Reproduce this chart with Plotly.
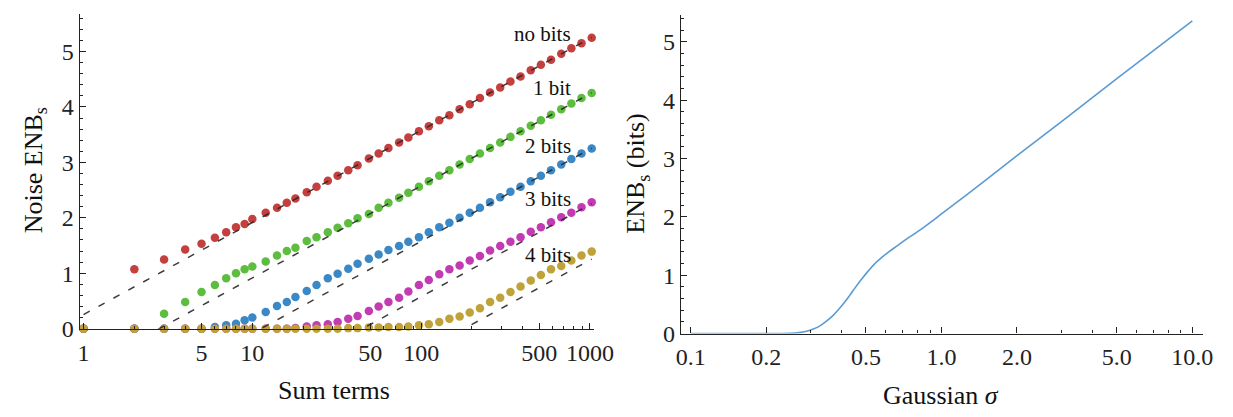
import plotly.graph_objects as go

# ---------------- data ----------------
sum_terms = [1, 2, 3, 4, 5, 6, 7, 8, 9, 10, 12, 14, 16, 18, 21, 24, 28, 32, 37, 42,
             49, 56, 64, 74, 84, 97, 111, 128, 147, 169, 194, 223, 256, 294, 338,
             388, 446, 512, 588, 676, 776, 891, 1024]

enb_no_bits = [0.0, 1.07, 1.25, 1.43, 1.53, 1.64, 1.74, 1.83, 1.89, 1.98, 2.09, 2.18,
               2.27, 2.35, 2.46, 2.56, 2.67, 2.76, 2.86, 2.95, 3.07, 3.16, 3.26, 3.36,
               3.45, 3.56, 3.65, 3.76, 3.85, 3.96, 4.05, 4.16, 4.26, 4.35, 4.46, 4.55,
               4.66, 4.76, 4.85, 4.96, 5.06, 5.15, 5.25]
enb_1_bit = [0.0, 0.0, 0.27, 0.48, 0.66, 0.79, 0.91, 1.00, 1.07, 1.12, 1.21, 1.32,
             1.40, 1.46, 1.58, 1.65, 1.74, 1.82, 1.90, 1.99, 2.07, 2.18, 2.27, 2.36,
             2.45, 2.56, 2.66, 2.76, 2.86, 2.96, 3.06, 3.16, 3.26, 3.36, 3.46, 3.56,
             3.66, 3.76, 3.86, 3.96, 4.06, 4.16, 4.25]
enb_2_bits = [0.0, 0.0, 0.0, 0.0, 0.0, 0.03, 0.06, 0.09, 0.15, 0.20, 0.30, 0.41,
              0.48, 0.57, 0.68, 0.79, 0.91, 0.99, 1.08, 1.17, 1.26, 1.34, 1.42, 1.49,
              1.57, 1.65, 1.74, 1.83, 1.91, 2.00, 2.09, 2.18, 2.28, 2.37, 2.47, 2.56,
              2.66, 2.76, 2.86, 2.96, 3.06, 3.16, 3.25]
enb_3_bits = [0.0, 0.0, 0.0, 0.0, 0.0, 0.0, 0.0, 0.0, 0.0, 0.0, 0.0, 0.0,
              0.0, 0.01, 0.04, 0.06, 0.08, 0.12, 0.18, 0.23, 0.32, 0.40, 0.48, 0.56,
              0.67, 0.79, 0.88, 0.98, 1.07, 1.14, 1.23, 1.31, 1.41, 1.49, 1.57, 1.65,
              1.75, 1.83, 1.92, 2.01, 2.09, 2.19, 2.28]
enb_4_bits = [0.0, 0.0, 0.0, 0.0, 0.0, 0.0, 0.0, 0.0, 0.0, 0.0, 0.0, 0.0,
              0.0, 0.0, 0.0, 0.0, 0.0, 0.0, 0.01, 0.01, 0.02, 0.02, 0.03, 0.03,
              0.04, 0.06, 0.08, 0.12, 0.18, 0.22, 0.29, 0.37, 0.48, 0.56, 0.66, 0.76,
              0.87, 0.97, 1.07, 1.13, 1.23, 1.32, 1.39]

series_labels = ["no bits", "1 bit", "2 bits", "3 bits", "4 bits"]
series_colors = ["#c4403e", "#5dbd3f", "#3b88c6", "#c23bb3", "#bfa33a"]

# asymptotic (Gaussian) reference lines: value at 1 and at 1024 sum terms
asym_x = [1, 1024]
asym_no_bits = [0.255, 5.255]
asym_1_bit = [-0.745, 4.255]
asym_2_bits = [-1.745, 3.255]
asym_3_bits = [-2.745, 2.255]
asym_4_bits = [-3.745, 1.255]

x1_major = [1, 5, 10, 50, 100, 500, 1000]
x1_minor = [2, 3, 4, 6, 7, 8, 9, 20, 30, 40, 60, 70, 80, 90,
            200, 300, 400, 600, 700, 800, 900]

# right panel: ENB of a gaussian vs sigma
sigma = [0.1, 0.15, 0.2, 0.23, 0.25, 0.27, 0.29, 0.31, 0.33, 0.35, 0.37, 0.39,
         0.41, 0.43, 0.45, 0.48, 0.51, 0.54, 0.58, 0.62, 0.67, 0.72, 0.78, 0.85,
         0.92, 1.0, 1.5, 2.0, 3.0, 5.0, 7.0, 10.0]
enb_sigma = [0.0, 0.0, 0.0, 0.0, 0.003, 0.015, 0.04, 0.08, 0.14, 0.22, 0.31, 0.42,
             0.53, 0.65, 0.77, 0.93, 1.07, 1.19, 1.31, 1.41, 1.51, 1.61, 1.71, 1.82,
             1.93, 2.05, 2.63, 3.05, 3.63, 4.37, 4.85, 5.36]

x2_major = [0.1, 0.2, 0.5, 1.0, 2.0, 5.0, 10.0]
x2_major_text = ["0.1", "0.2", "0.5", "1.0", "2.0", "5.0", "10.0"]
x2_minor = [0.3, 0.4, 0.6, 0.7, 0.8, 0.9, 3, 4, 6, 7, 8, 9]

# ---------------- figure ----------------
W, H = 1233, 417
FONT = "Liberation Serif, Times New Roman, serif"

fig = go.Figure()

series = [enb_no_bits, enb_1_bit, enb_2_bits, enb_3_bits, enb_4_bits]
for vals, col, lab in zip(series, series_colors, series_labels):
    fig.add_trace(go.Scatter(
        x=sum_terms, y=vals, mode="markers", name=lab, cliponaxis=False,
        marker=dict(size=8.5, color=col, line=dict(width=0)),
        xaxis="x", yaxis="y"))

for ys in [asym_no_bits, asym_1_bit, asym_2_bits, asym_3_bits, asym_4_bits]:
    fig.add_trace(go.Scatter(
        x=asym_x, y=ys, mode="lines",
        line=dict(color="rgba(40,40,40,0.9)", width=1.5, dash="7px,10px"),
        xaxis="x", yaxis="y"))

fig.add_trace(go.Scatter(
    x=sigma, y=enb_sigma, mode="lines", line_shape="spline",
    line=dict(color="#5b9bd3", width=1.6), cliponaxis=False,
    xaxis="x2", yaxis="y2"))

axis_common = dict(
    showline=True, linecolor="#222", linewidth=1.3, mirror=False,
    showgrid=False, zeroline=False, ticks="inside", ticklen=6, tickwidth=1,
    tickcolor="#222", tickfont=dict(family=FONT, size=24, color="#222"),
)

def px_x(p):
    return p / W

def px_y(p):
    return 1 - p / H

fig.update_layout(
    width=W, height=H, margin=dict(l=0, r=0, t=0, b=0),
    paper_bgcolor="white", plot_bgcolor="white", showlegend=False,
    font=dict(family=FONT),
    xaxis=dict(axis_common, type="log", domain=[px_x(68), px_x(593)],
               range=[-0.0232, 3.0238], anchor="y", ticklabelstandoff=2,
               tickvals=x1_major, ticktext=[str(v) for v in x1_major],
               minor=dict(tickvals=x1_minor, ticks="inside", ticklen=3,
                          tickcolor="#222")),
    yaxis=dict(axis_common, domain=[px_y(331), px_y(6)], range=[0, 5.68],
               anchor="x", tickvals=[0, 1, 2, 3, 4, 5],
               minor=dict(dtick=0.2, ticks="inside", ticklen=3, tickcolor="#222")),
    xaxis2=dict(axis_common, type="log", domain=[px_x(681.7), px_x(1215)],
                range=[-1.039, 1.044], anchor="y2", ticklabelstandoff=2,
                tickvals=x2_major, ticktext=x2_major_text,
                minor=dict(tickvals=x2_minor, ticks="inside", ticklen=3,
                           tickcolor="#222")),
    yaxis2=dict(axis_common, domain=[px_y(336), px_y(7)], range=[0, 5.465],
                anchor="x2", tickvals=[0, 1, 2, 3, 4, 5],
                minor=dict(dtick=0.2, ticks="inside", ticklen=3, tickcolor="#222")),
)

# series labels
label_y = [27, 83, 142, 197, 255]
for lab, yy in zip(series_labels, label_y):
    fig.add_annotation(text=lab, xref="paper", yref="paper", x=px_x(572), y=px_y(yy),
                       xanchor="right", yanchor="middle", showarrow=False,
                       font=dict(family=FONT, size=21, color="#111"))

# axis titles
title_font = dict(family=FONT, size=26, color="#111")
fig.add_annotation(text="Sum terms", xref="paper", yref="paper", x=px_x(328), y=px_y(395),
                   xanchor="center", yanchor="middle", showarrow=False, font=title_font)
fig.add_annotation(text="Noise ENB<sub>s</sub>", xref="paper", yref="paper", x=px_x(22),
                   y=px_y(168), xanchor="center", yanchor="middle", textangle=-90,
                   showarrow=False, font=title_font)
fig.add_annotation(text="Gaussian <i>σ</i>", xref="paper", yref="paper", x=px_x(947),
                   y=px_y(400), xanchor="center", yanchor="middle", showarrow=False,
                   font=title_font)
fig.add_annotation(text="ENB<sub>s</sub> (bits)", xref="paper", yref="paper", x=px_x(637),
                   y=px_y(171), xanchor="center", yanchor="middle", textangle=-90,
                   showarrow=False, font=title_font)

fig.write_html("out.html")
